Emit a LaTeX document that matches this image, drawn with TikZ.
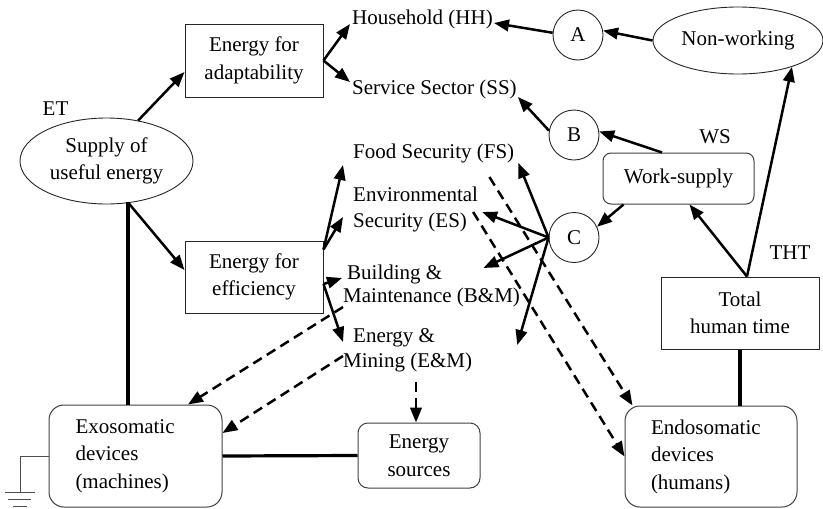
\documentclass[tikz,border=0pt]{standalone}
\usepackage{fontspec}
\setmainfont{Liberation Serif}
\usetikzlibrary{shapes.geometric,arrows.meta,calc}
\begin{document}
\begin{tikzpicture}[x=1pt,y=-1pt,
  every node/.style={font=\fontsize{21}{27.5}\selectfont, inner sep=0pt, text=black},
  sqbox/.style={draw=black!85, line width=1pt, align=center},
  rbox/.style={draw=black!75, line width=1pt},
  oval/.style={ellipse, draw=black!85, line width=0.9pt, align=center},
  circ/.style={circle, draw=black!85, line width=0.9pt, minimum size=50pt},
  lbl/.style={anchor=base west},
  arr/.style={line width=2.5pt, -{Triangle[length=15pt,width=11.5pt]}},
  darr/.style={arr, dash pattern=on 10pt off 6pt},
  heavy/.style={line width=3.2pt},
  gnd/.style={draw=black!70, line width=1pt}]
\useasboundingbox (0,0) rectangle (823,509);

% main boxes
\node[sqbox, minimum width=138pt, minimum height=73pt] (adapt) at (254,60.5) {Energy for\\adaptability};
\node[sqbox, minimum width=138pt, minimum height=72pt] (eff) at (254,277) {Energy for\\efficiency};
\node[oval, minimum width=173pt, minimum height=86pt] (ell) at (106.5,161) {Supply of\\useful energy};
\node (etl) at (55.5,108.5) {ET};

\node[rbox, rounded corners=15pt, minimum width=173pt, minimum height=102pt, text width=120pt, align=left] (exo) at (135.5,456) {Exosomatic\\devices\\(machines)};
\node[rbox, rounded corners=10pt, minimum width=122pt, minimum height=65pt, align=center] (esrc) at (419,455.5) {Energy\\sources};
\node[rbox, rounded corners=15pt, minimum width=172pt, minimum height=101pt, text width=120pt, align=left] (endo) at (711,456.5) {Endosomatic\\devices\\(humans)};
\node[sqbox, minimum width=158pt, minimum height=72pt] (total) at (740,313) {Total\\human time};
\node[rbox, rounded corners=8pt, minimum width=151pt, minimum height=51pt] (ws) at (678.5,178.5) {Work-supply};
\node[oval, minimum width=170pt, minimum height=67pt] (nonw) at (738,40.5) {Non-working};
\node (wsl) at (715,137) {WS};
\node (thtl) at (790,253) {THT};

\node[circ] (A) at (578,35) {A};
\node[circ] (B) at (574,135) {B};
\node[circ] (C) at (574,237.5) {C};

% sector labels
\node[lbl] (hh) at (352,24) {Household (HH)};
\node[lbl] (ss) at (352,94) {Service Sector (SS)};
\node[lbl] (fs) at (353,158) {Food Security (FS)};
\node[lbl] (es1) at (353,201) {Environmental};
\node[lbl] (es2) at (353,227) {Security (ES)};
\node[lbl] (bm1) at (347,279) {Building \&};
\node[lbl] (bm2) at (343,302) {Maintenance (B\&M)};
\node[lbl] (em1) at (353,342) {Energy \&};
\node[lbl] (em2) at (343,367) {Mining (E\&M)};

% energy side
\draw[arr] (ell.52) -- ([yshift=-11.5pt]adapt.west);
\draw[arr] (adapt.east) -- ([xshift=-2pt]hh.base west);
\draw[arr] (adapt.east) -- ([xshift=-2pt,yshift=12pt]ss.base west);
\draw[heavy] ([xshift=21.5pt,yshift=2pt]ell.south) -- ([xshift=-7.5pt]exo.north);
\draw[arr] ([xshift=21.5pt,yshift=2pt]ell.south) -- ([yshift=7pt]eff.west);
\draw[arr] ([yshift=-9pt]eff.north east) -- ([xshift=-10pt,yshift=-7pt]fs.base west);
\draw[arr] ([yshift=-9pt]eff.north east) -- ([xshift=-10pt,yshift=10pt]es2.base west);
\draw[arr] ([yshift=-7pt]eff.east) -- ([xshift=-5pt,yshift=1pt]bm1.base west);
\draw[arr] ([yshift=-7pt]eff.east) -- ([xshift=-10pt]em1.base west);

% human side
\draw[arr] (A.175) -- ([xshift=1pt,yshift=1pt]hh.base east);
\draw[arr] (nonw.west) -- (A.10);
\draw[arr] (B.170) -- ([xshift=1pt,yshift=-3pt]ss.base east);
\draw[arr] ([xshift=-16.5pt]ws.north) -- (B.8);
\draw[arr] ([xshift=-55pt]ws.south) -- (C.25);
\draw[arr] ([xshift=7pt]total.north) -- ([xshift=11pt]ws.south);
\draw[arr] ([xshift=7pt]total.north) -- (nonw.-26);

\draw[arr] (C.west) -- ([xshift=4pt,yshift=-5pt]fs.base east);
\draw[arr] (C.west) -- ([xshift=15pt,yshift=15pt]es2.base east);
\draw[arr] (C.west) -- ([xshift=41pt,yshift=11pt]bm1.base east);
\draw[arr] (C.west) -- ([xshift=82pt,yshift=-3pt]em1.base east);

% dashed flows
\draw[darr] ([yshift=-5pt]bm2.base west) -- ([xshift=52.5pt]exo.north);
\draw[darr] ([yshift=11pt]em2.base west) -- ([yshift=23pt]exo.east);
\draw[darr] ([xshift=73pt,yshift=-15pt]em2.base west) -- ([xshift=-3pt]esrc.north);
\draw[darr] ([xshift=-25pt,yshift=-19pt]fs.base east) -- ([xshift=8pt]endo.north west);
\draw[darr] ([xshift=6pt,yshift=15pt]es2.base east) -- (endo.west);

% solid links
\draw[heavy] (exo.east) -- (esrc.west);
\draw[heavy] (total.south) -- (total.south |- endo.north);

% ground
\coordinate (g) at (20,492);
\draw[gnd] (exo.west) -| (g);
\draw[gnd] (5,492) -- (35,492) (8,499) -- (31,499) (13,506) -- (27,506);
\end{tikzpicture}
\end{document}
